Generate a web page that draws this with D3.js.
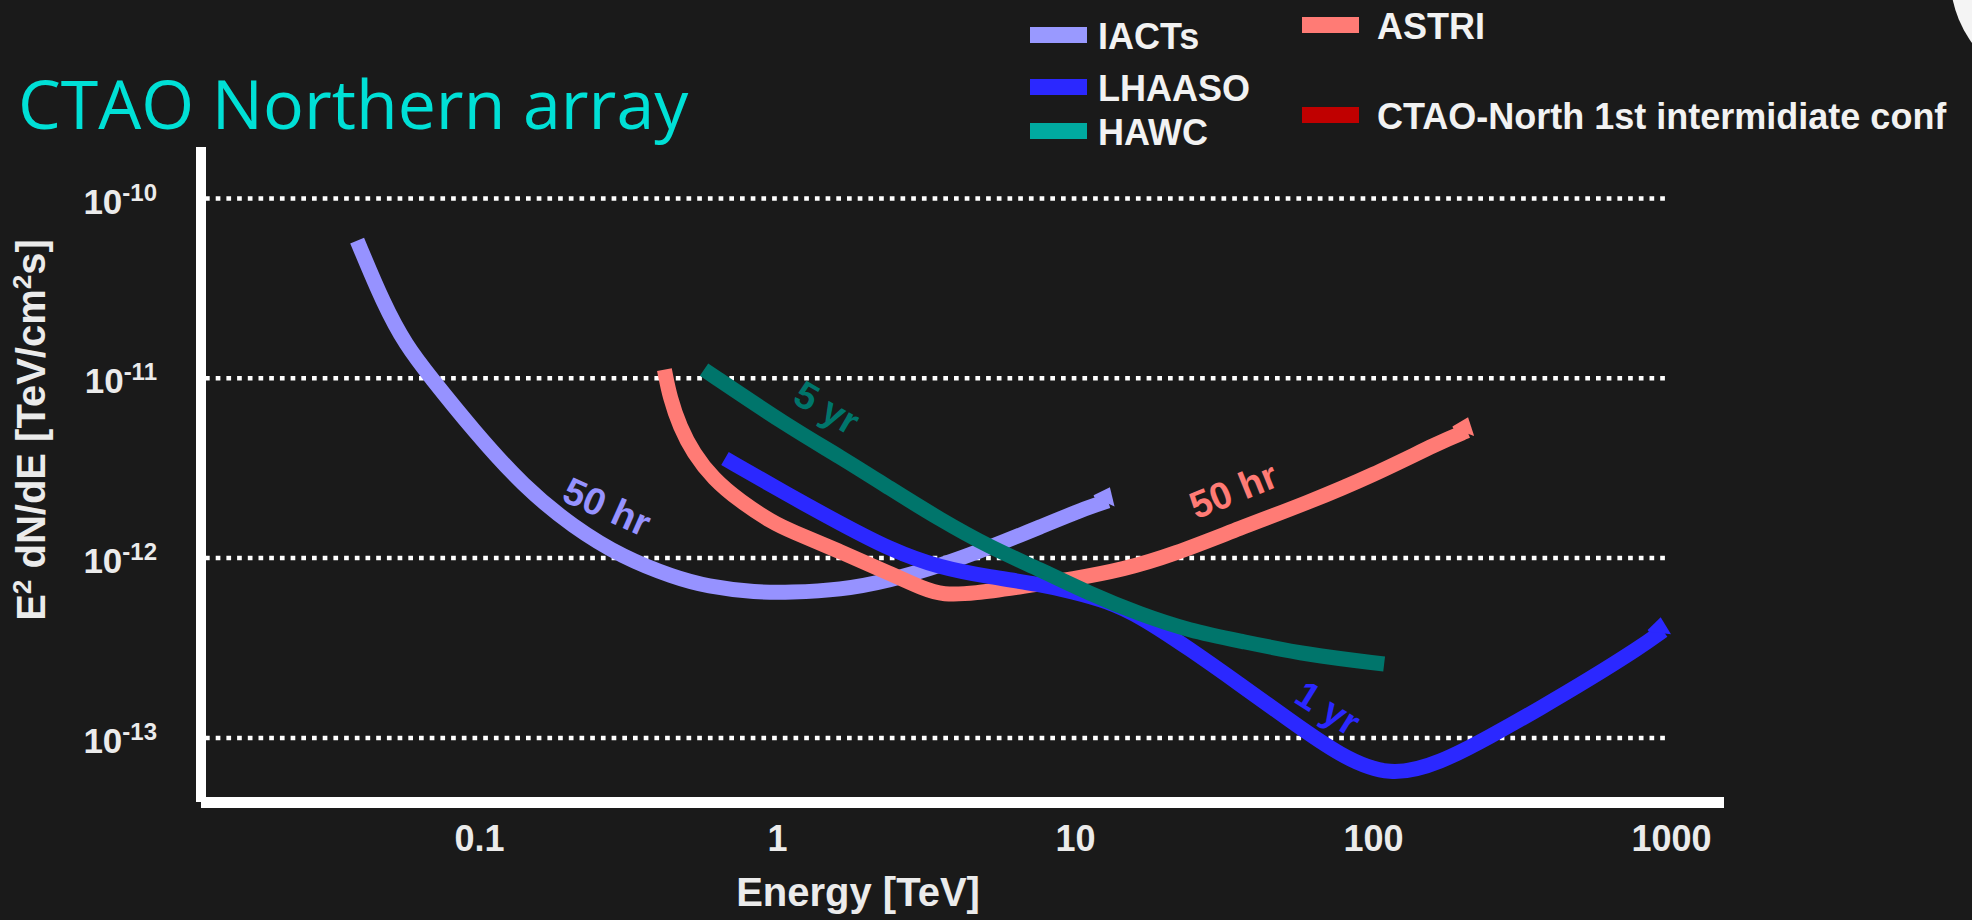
<!DOCTYPE html>
<html>
<head>
<meta charset="utf-8">
<script src="https://cdn.jsdelivr.net/npm/d3@7"></script>
<style>
	body { margin: 0; background: #1a1a1a; overflow: hidden; }
	svg { display: block; }
</style>
</head>
<body>
<div id="chart"></div>
<script>
// sensitivity curves: [energy TeV, E^2 dN/dE in TeV/cm^2/s]
const iacts = [
	[0.039, 5.8e-11], [0.048, 2.54e-11], [0.057, 1.51e-11], [0.068, 1.03e-11],
	[0.096, 5.07e-12], [0.141, 2.49e-12], [0.207, 1.48e-12], [0.305, 1.0e-12],
	[0.449, 7.8e-13], [0.581, 6.92e-13], [0.855, 6.4e-13], [1.1, 6.4e-13],
	[1.63, 6.6e-13], [2.39, 7.45e-13], [3.52, 9.0e-13], [5.19, 1.14e-12],
	[7.63, 1.48e-12], [11.2, 1.92e-12], [12.9, 2.07e-12],
];
const astri = [
	[0.419, 1.11e-11], [0.437, 7.76e-12], [0.473, 5.31e-12], [0.524, 3.82e-12],
	[0.611, 2.74e-12], [0.751, 2.06e-12], [0.972, 1.56e-12], [1.1, 1.42e-12],
	[1.63, 1.08e-12], [2.39, 8.18e-13], [3.1, 6.7e-13], [3.61, 6.2e-13],
	[4.56, 6.3e-13], [6.71, 6.92e-13], [9.87, 7.61e-13], [14.5, 8.58e-13],
	[21.4, 1.04e-12], [35.8, 1.46e-12], [59.9, 2.01e-12], [100, 2.87e-12],
	[168, 4.4e-12], [207, 5.07e-12],
];
const hawc = [
	[0.569, 1.11e-11], [1.1, 5.31e-12], [1.63, 3.64e-12], [2.39, 2.43e-12],
	[3.52, 1.63e-12], [5.19, 1.14e-12], [7.63, 8.58e-13], [11.2, 6.3e-13],
	[16.5, 4.85e-13], [24.3, 3.92e-13], [35.8, 3.44e-13], [59.9, 2.88e-13],
	[109, 2.56e-13],
];
const lhaaso = [
	[0.669, 3.56e-12], [1.1, 2.21e-12], [1.63, 1.55e-12], [2.39, 1.11e-12],
	[3.52, 8.77e-13], [5.19, 7.8e-13], [7.63, 7.1e-13], [9.87, 6.45e-13],
	[12.8, 5.74e-13], [16.5, 4.74e-13], [24.3, 3.1e-13], [35.8, 1.97e-13],
	[52.7, 1.24e-13], [77.5, 7.9e-14], [114, 6.0e-14], [168, 7.2e-14],
	[247, 1.01e-13], [363, 1.45e-13], [535, 2.12e-13], [787, 3.17e-13],
	[940, 3.92e-13],
];

const xTicks = [0.1, 1, 10, 100, 1000];
const xTickLabels = ["0.1", "1", "10", "100", "1000"];
const yTicks = [1e-10, 1e-11, 1e-12, 1e-13];
const yTickExponents = ["-10", "-11", "-12", "-13"];

const legendNames = ["IACTs", "LHAASO", "HAWC", "ASTRI", "CTAO-North 1st intermidiate conf"];
const curveLabels = ["50 hr", "50 hr", "1 yr", "5 yr"];

const width = 1972;
const height = 920;
const textColor = "#ebebeb";
const boldFont = "'Liberation Sans', Arial, sans-serif";

const svg = d3
	.select("#chart")
	.append("svg")
	.attr("width", width)
	.attr("height", height)
	.style("background", "#1a1a1a");

const x = d3.scaleLog().domain([0.1, 1000]).range([479, 1671]);
const y = d3.scaleLog().domain([1e-13, 1e-10]).range([737.4, 198]);

// corner decoration (edge of a white disc)
svg.append("circle")
	.attr("cx", 2066)
	.attr("cy", -25)
	.attr("r", 116)
	.attr("fill", "#f4f4f4");

// title
svg.append("text")
	.attr("x", 18)
	.attr("y", 129)
	.attr("font-family", "'Open Sans', sans-serif")
	.attr("font-size", 68)
	.attr("fill", "#00e0d6")
	.text("CTAO Northern array");

// y axis with dotted grid lines
const yAxis = d3
	.axisLeft(y)
	.tickValues(yTicks)
	.tickSizeInner(-1460)
	.tickSizeOuter(0)
	.tickPadding(48)
	.tickFormat(() => "");

const gy = svg.append("g")
	.attr("transform", "translate(205,0)")
	.call(yAxis);
gy.select(".domain").remove();
gy.selectAll(".tick line")
	.attr("stroke", "#ffffff")
	.attr("stroke-width", 4.5)
	.attr("stroke-dasharray", "4.7 6");
gy.selectAll(".tick text")
	.attr("dy", 15)
	.attr("font-family", boldFont)
	.attr("font-weight", "bold")
	.attr("font-size", 35)
	.attr("fill", textColor)
	.each(function (d, i) {
		const t = d3.select(this);
		t.append("tspan").text("10");
		t.append("tspan")
			.attr("dy", -13)
			.attr("font-size", 24)
			.text(yTickExponents[i]);
	});

// x axis labels
const xAxis = d3
	.axisBottom(x)
	.tickValues(xTicks)
	.tickSize(0)
	.tickPadding(17)
	.tickFormat((d, i) => xTickLabels[i]);

const gx = svg.append("g")
	.attr("transform", "translate(0,808)")
	.call(xAxis);
gx.select(".domain").remove();
gx.selectAll(".tick text")
	.attr("font-family", boldFont)
	.attr("font-weight", "bold")
	.attr("font-size", 36)
	.attr("fill", textColor);

// frame lines
svg.append("rect")
	.attr("x", 196)
	.attr("y", 147)
	.attr("width", 10)
	.attr("height", 655)
	.attr("fill", "#ffffff");
svg.append("rect")
	.attr("x", 201)
	.attr("y", 797)
	.attr("width", 1523)
	.attr("height", 11)
	.attr("fill", "#ffffff");

// axis titles
svg.append("text")
	.attr("x", 858)
	.attr("y", 906)
	.attr("text-anchor", "middle")
	.attr("font-family", boldFont)
	.attr("font-weight", "bold")
	.attr("font-size", 40)
	.attr("fill", textColor)
	.text("Energy [TeV]");

const yTitle = svg.append("text")
	.attr("transform", "translate(45,430) rotate(-90)")
	.attr("text-anchor", "middle")
	.attr("font-family", boldFont)
	.attr("font-weight", "bold")
	.attr("font-size", 40)
	.attr("fill", textColor);
yTitle.append("tspan").text("E");
yTitle.append("tspan").attr("dy", -14).attr("font-size", 26).text("2");
yTitle.append("tspan").attr("dy", 14).text(" dN/dE [TeV/cm");
yTitle.append("tspan").attr("dy", -14).attr("font-size", 26).text("2");
yTitle.append("tspan").attr("dy", 14).text("s]");

// curves
const line = d3
	.line()
	.x((d) => x(d[0]))
	.y((d) => y(d[1]))
	.curve(d3.curveBasis);

const series = [
	{ id: "iacts", data: iacts, color: "#9692ff", label: curveLabels[0], at: [0.269, 1.92e-12], rot: 24, tip: true },
	{ id: "astri", data: astri, color: "#ff7b75", label: curveLabels[1], at: [34, 2.37e-12], rot: -22, tip: true },
	{ id: "lhaaso", data: lhaaso, color: "#2b28ff", label: curveLabels[2], at: [70.6, 1.46e-13], rot: 32, tip: true },
	{ id: "hawc", data: hawc, color: "#00756b", label: curveLabels[3], at: [1.47, 6.84e-12], rot: 30, tip: false },
];

// small flared tips at the curve ends
const defs = svg.append("defs");
series.filter((d) => d.tip).forEach((d) => {
	defs.append("marker")
		.attr("id", "tip-" + d.id)
		.attr("orient", "auto")
		.attr("markerUnits", "strokeWidth")
		.attr("markerWidth", 3)
		.attr("markerHeight", 3)
		.attr("refX", 0)
		.attr("refY", 0)
		.style("overflow", "visible")
		.append("path")
		.attr("d", "M-0.8,-0.5 L-0.8,-0.64 L0.4,-0.82 L0.3,0.5 Z")
		.attr("fill", d.color);
});

svg.append("g")
	.selectAll("path")
	.data(series)
	.enter()
	.append("path")
	.attr("d", (d) => line(d.data))
	.attr("fill", "none")
	.attr("stroke", (d) => d.color)
	.attr("stroke-width", 15)
	.attr("marker-end", (d) => (d.tip ? `url(#tip-${d.id})` : null));

svg.append("g")
	.selectAll("text")
	.data(series)
	.enter()
	.append("text")
	.attr("transform", (d) => `translate(${x(d.at[0])},${y(d.at[1])}) rotate(${d.rot})`)
	.attr("text-anchor", "middle")
	.attr("dy", "0.35em")
	.attr("font-family", boldFont)
	.attr("font-weight", "bold")
	.attr("font-size", 38)
	.attr("fill", (d) => d.color)
	.text((d) => d.label);

// legend
const legendColors = ["#9999ff", "#2b28ff", "#00aaa0", "#ff7b75", "#c00000"];
const legendPos = [[1030, 27], [1030, 79], [1030, 123], [1302, 17], [1302, 107]];

const legend = svg.append("g")
	.selectAll("g")
	.data(legendNames)
	.enter()
	.append("g")
	.attr("transform", (d, i) => `translate(${legendPos[i][0]},${legendPos[i][1]})`);

legend.append("rect")
	.attr("width", 57)
	.attr("height", 16)
	.attr("fill", (d, i) => legendColors[i]);

legend.append("text")
	.attr("x", (d, i) => (i < 3 ? 68 : 75))
	.attr("y", 22)
	.attr("font-family", boldFont)
	.attr("font-weight", "bold")
	.attr("font-size", 36)
	.attr("fill", "#f2f2f2")
	.text((d) => d);
</script>
</body>
</html>
